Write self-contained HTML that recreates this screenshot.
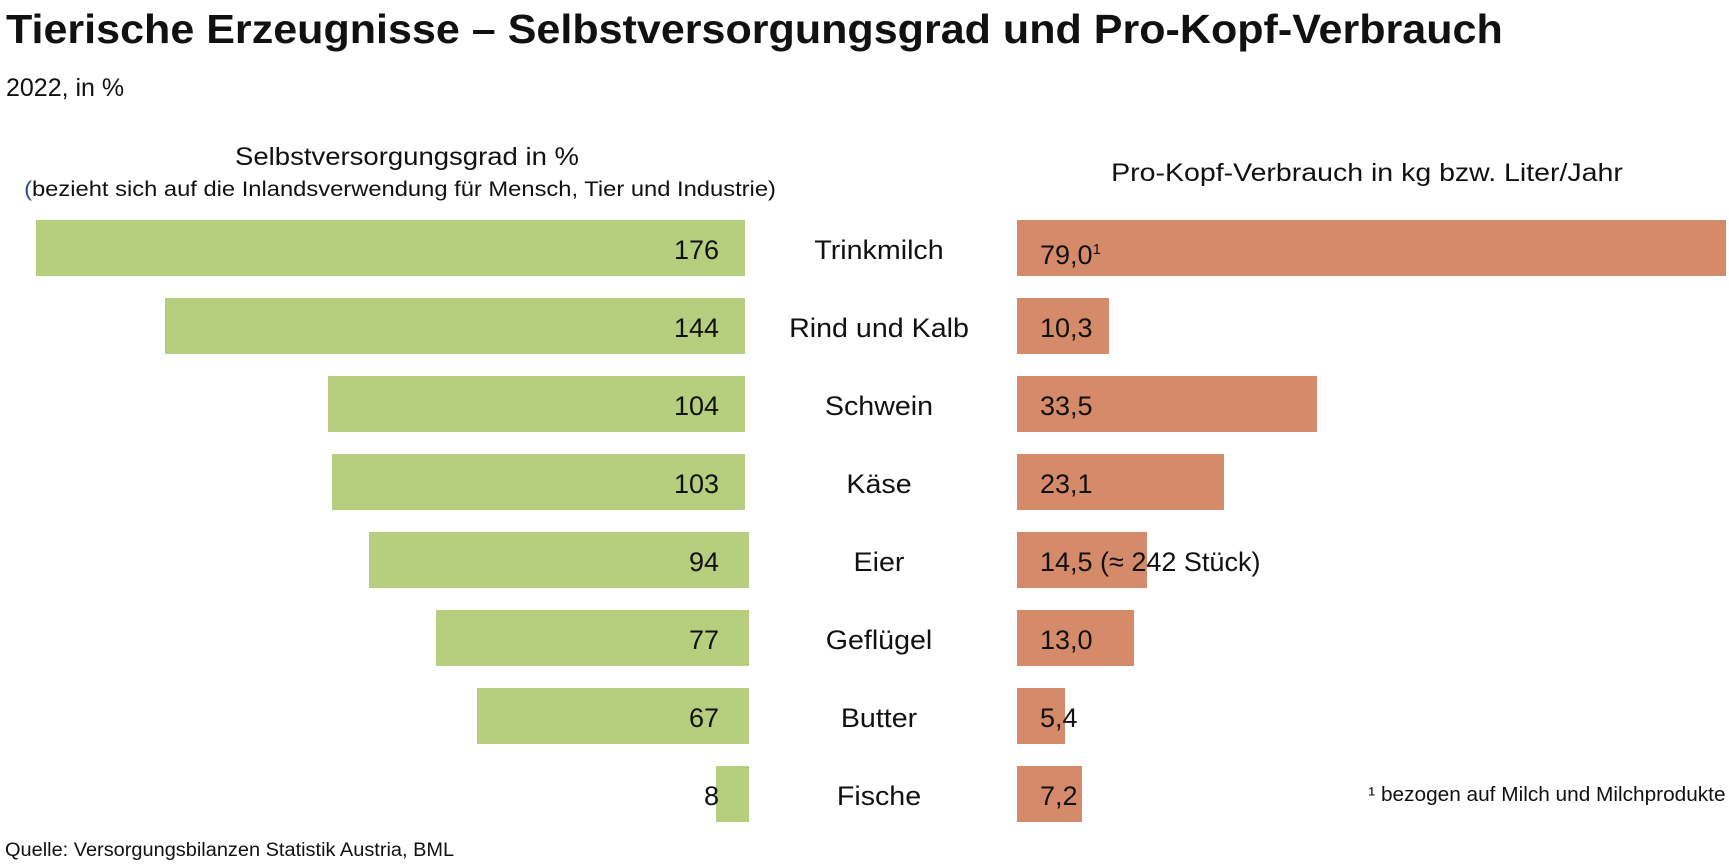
<!DOCTYPE html>
<html><head><meta charset="utf-8"><style>
body{margin:0;width:1729px;height:867px;background:#fff;position:relative;overflow:hidden;font-family:"Liberation Sans",sans-serif;color:#111}
.a{position:absolute;white-space:nowrap}
.g{position:absolute;background:#b5cf7f;height:56px}
.o{position:absolute;background:#d58a69;height:56px}
.v{position:absolute;font-size:27px;line-height:60px}
</style></head><body>
<div class="a" style="left:6px;top:6px;font-size:41px;font-weight:bold;transform:scaleX(1.05);transform-origin:left">Tierische Erzeugnisse – Selbstversorgungsgrad und Pro-Kopf-Verbrauch</div>
<div class="a" style="left:6px;top:74px;font-size:25px">2022, in %</div>
<div class="a" style="left:407px;top:143px;font-size:25px;transform:translateX(-50%) scaleX(1.1)">Selbstversorgungsgrad in %</div>
<div class="a" style="left:400px;top:178px;font-size:21px;transform:translateX(-50%) scaleX(1.13)"><span style="color:#2a4f8a">(</span>bezieht sich auf die Inlandsverwendung für Mensch, Tier und Industrie)</div>
<div class="a" style="left:1367px;top:159px;font-size:25px;transform:translateX(-50%) scaleX(1.14)">Pro-Kopf-Verbrauch in kg bzw. Liter/Jahr</div>
<div id="c"></div>
<div class="a" style="left:5px;top:840px;font-size:19px;transform:scaleX(1.05);transform-origin:left">Quelle: Versorgungsbilanzen Statistik Austria, BML</div>
<div class="a" style="right:3px;top:784px;font-size:20px;transform:scaleX(1.04);transform-origin:right">¹ bezogen auf Milch und Milchprodukte</div>
<script>
var d=[["Trinkmilch","176","79,0<sup style='font-size:15px'>1</sup>",36,745,1726],["Rind und Kalb","144","10,3",165,745,1109],["Schwein","104","33,5",328,745,1317],["Käse","103","23,1",332,745,1224],["Eier","94","14,5 (≈ 242 Stück)",369,749,1147],["Geflügel","77","13,0",436,749,1134],["Butter","67","5,4",477,749,1065],["Fische","8","7,2",716,749,1082]];
var h="";d.forEach(function(r,i){var y=220+i*78;
h+='<div class="g" style="left:'+r[3]+'px;top:'+y+'px;width:'+(r[4]-r[3])+'px"></div>';
h+='<div class="o" style="left:1017px;top:'+y+'px;width:'+(r[5]-1017)+'px"></div>';
h+='<div class="v" style="right:'+(1729-719)+'px;top:'+y+'px">'+r[1]+'</div>';
h+='<div class="v" style="left:1040px;top:'+y+'px">'+r[2]+'</div>';
h+='<div class="v" style="left:879px;top:'+y+'px;transform:translateX(-50%) scaleX(1.06)">'+r[0]+'</div>';});
document.getElementById("c").innerHTML=h;
</script>
</body></html>
